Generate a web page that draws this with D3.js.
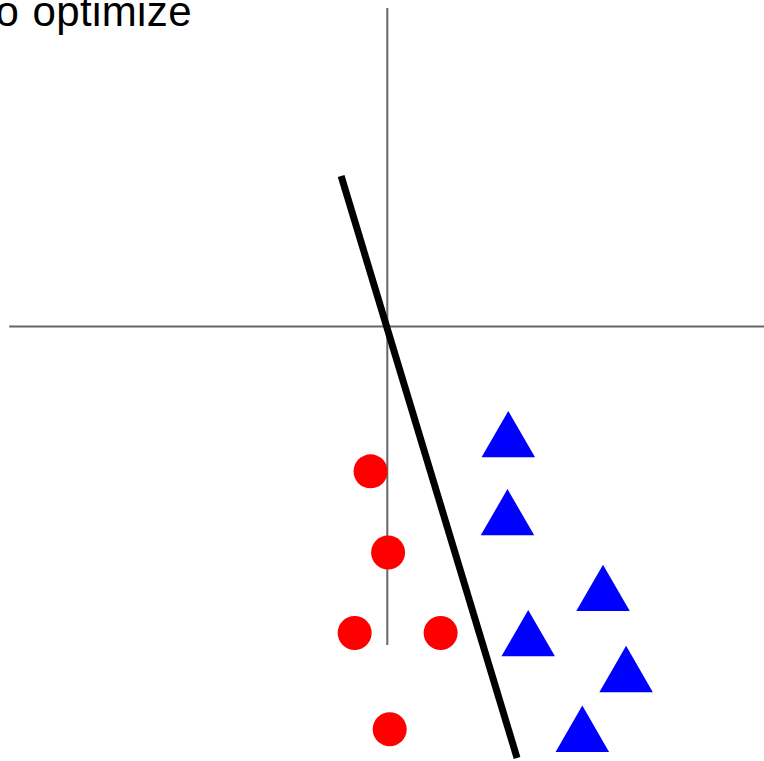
<!DOCTYPE html>
<html>
<head>
<meta charset="utf-8">
<script src="https://cdn.jsdelivr.net/npm/d3@7"></script>
<style>
  html, body { margin: 0; padding: 0; background: #fff; overflow: hidden; }
  svg { display: block; }
</style>
</head>
<body>
<svg id="chart" width="764" height="761"></svg>
<script>
// ---- data (data units; origin at axes crossing) ----
const titleText = "to optimize";
const circleX = [-0.21, 0.01, -0.41, 0.67, 0.03];
const circleY = [-1.82, -2.84, -3.85, -3.85, -5.06];
const triangleX = [1.52, 1.51, 2.71, 1.77, 3.00, 2.45];
const triangleY = [-1.45, -2.43, -3.38, -3.95, -4.40, -5.15];
const lineX = [-0.58, 1.63];
const lineY = [1.89, -5.42];
const hAxisX = [-4.75, 4.75];
const vAxisY = [-4.0, 4.0];

// ---- scales ----
const ox = 387.3, oy = 326.5, k = 79.6;
const x = d3.scaleLinear().domain([-4, 4]).range([ox - 4 * k, ox + 4 * k]);
const y = d3.scaleLinear().domain([-4, 4]).range([oy + 4 * k, oy - 4 * k]);

const svg = d3.select("#chart");

// axes
svg.append("line")
  .attr("x1", x(hAxisX[0])).attr("x2", x(hAxisX[1]))
  .attr("y1", y(0)).attr("y2", y(0))
  .attr("stroke", "#666").attr("stroke-width", 2);
svg.append("line")
  .attr("x1", x(0)).attr("x2", x(0))
  .attr("y1", y(vAxisY[1])).attr("y2", y(vAxisY[0]))
  .attr("stroke", "#666").attr("stroke-width", 2);

// separating line
svg.append("line")
  .attr("x1", x(lineX[0])).attr("y1", y(lineY[0]))
  .attr("x2", x(lineX[1])).attr("y2", y(lineY[1]))
  .attr("stroke", "#000").attr("stroke-width", 7).attr("stroke-linecap", "butt");

// circles
svg.selectAll("circle.pt")
  .data(circleX.map((v, i) => [v, circleY[i]]))
  .enter().append("circle")
  .attr("class", "pt")
  .attr("cx", d => x(d[0])).attr("cy", d => y(d[1]))
  .attr("r", 17).attr("fill", "#ff0000");

// triangles
const tri = d3.symbol().type(d3.symbolTriangle).size(Math.sqrt(3) / 4 * 53.5 * 53.5);
svg.selectAll("path.tri")
  .data(triangleX.map((v, i) => [v, triangleY[i]]))
  .enter().append("path")
  .attr("class", "tri")
  .attr("transform", d => `translate(${x(d[0])},${y(d[1])})`)
  .attr("d", tri)
  .attr("fill", "#0000ff");

// title (cropped at the left edge, as in the reference)
svg.append("text")
  .attr("x", 192).attr("y", 26)
  .attr("text-anchor", "end")
  .attr("font-family", "'Liberation Sans', Arial, sans-serif")
  .attr("font-size", 42)
  .attr("word-spacing", 1)
  .attr("letter-spacing", 0.4)
  .attr("fill", "#000")
  .text(titleText);
</script>
</body>
</html>
